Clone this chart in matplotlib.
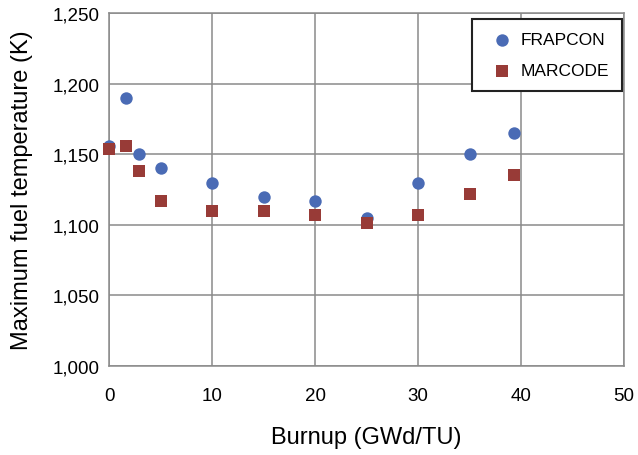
import matplotlib
matplotlib.use("Agg")
import matplotlib.pyplot as plt
from matplotlib.ticker import StrMethodFormatter

plt.rcParams['font.family'] = ['Liberation Sans', 'DejaVu Sans']

# burnup (GWd/TU) and max fuel temperature (K)
frapcon_x = [0, 1.65, 2.9, 5, 10, 15, 20, 25, 30, 35, 39.3]
frapcon_y = [1156, 1190, 1150, 1140, 1130, 1120, 1117, 1105, 1130, 1150, 1165]
marcode_x = [0, 1.65, 2.9, 5, 10, 15, 20, 25, 30, 35, 39.3]
marcode_y = [1154, 1156, 1138, 1117, 1110, 1110, 1107, 1101, 1107, 1122, 1135]

x_ticks = [0, 10, 20, 30, 40, 50]
y_ticks = [1000, 1050, 1100, 1150, 1200, 1250]

fig = plt.figure(figsize=(6.38, 4.56), dpi=100)
ax = fig.add_axes([0.171, 0.195, 0.807, 0.774])

ax.scatter(frapcon_x, frapcon_y, s=80, marker='o', color='#4a6bb5',
           label='FRAPCON', zorder=3, linewidths=0, clip_on=False)
ax.scatter(marcode_x, marcode_y, s=82, marker='s', color='#983b37',
           label='MARCODE', zorder=4, linewidths=0, clip_on=False)

ax.set_xlim(0, 50)
ax.set_ylim(1000, 1250)
ax.set_xticks(x_ticks)
ax.set_yticks(y_ticks)
ax.yaxis.set_major_formatter(StrMethodFormatter('{x:,.0f}'))
ax.grid(True, color='#8a8a8a', linewidth=1.1)
ax.set_axisbelow(True)
for sp in ax.spines.values():
    sp.set_color('#8a8a8a')
    sp.set_linewidth(1.1)
ax.tick_params(axis='both', length=0, labelsize=13.5)
ax.tick_params(axis='x', pad=15)
ax.tick_params(axis='y', pad=7)

ax.set_xlabel('Burnup (GWd/TU)', fontsize=17, labelpad=16)
ax.set_ylabel('Maximum fuel temperature (K)', fontsize=17, labelpad=14)

leg = ax.legend(loc='upper right', bbox_to_anchor=(0.996, 0.983),
                borderaxespad=0, fontsize=12.5, frameon=True, fancybox=False,
                borderpad=0.75, labelspacing=0.9, handlelength=2.0,
                handletextpad=0.05, scatterpoints=1)
leg.get_frame().set_edgecolor('#222222')
leg.get_frame().set_linewidth(1.5)
leg.get_frame().set_alpha(1)

fig.savefig('out.png', dpi=100)
